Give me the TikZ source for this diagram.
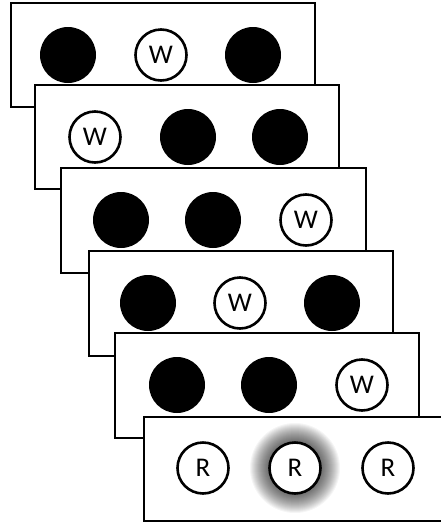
\documentclass[tikz,border=0pt]{standalone}
\usepackage{fontspec}
\setmainfont{Carlito}
\newcommand\tagfont{\fontsize{27}{29}\selectfont}
\begin{document}
\begin{tikzpicture}[x=1pt,y=-1pt,
  card/.style={draw=black,line width=2.8pt,fill=white},
  ball/.style={circle,fill=black,minimum size=56pt,inner sep=0pt},
  tag/.style={circle,draw=black,line width=2.6pt,fill=white,minimum size=51pt,inner sep=0pt,font=\tagfont}]
\useasboundingbox (0,0) rectangle (441,523);
% card 1
\draw[card] (11,3) rectangle (315,107);
\node[ball] (a1) at (68,55) {};
\node[tag] (a2) at (161,55) {W};
\node[ball] (a3) at (253,55) {};
% card 2
\draw[card] (35,85) rectangle (339,189);
\node[tag] (b1) at (95,137) {W};
\node[ball] (b2) at (188,137) {};
\node[ball] (b3) at (280,137) {};
% card 3
\draw[card] (61,168) rectangle (366,273);
\node[ball] (c1) at (121,220) {};
\node[ball] (c2) at (213,220) {};
\node[tag] (c3) at (306,220) {W};
% card 4
\draw[card] (89,251) rectangle (393,356);
\node[ball] (d1) at (148,303) {};
\node[tag] (d2) at (240,303) {W};
\node[ball] (d3) at (332,303) {};
% card 5
\draw[card] (115,333) rectangle (419,438);
\node[ball] (e1) at (177,385) {};
\node[ball] (e2) at (269,385) {};
\node[tag] (e3) at (362,385) {W};
% card 6
\draw[card] (144,417) rectangle (450,521);
\foreach \r in {27,28,...,45}
  \fill[black,opacity=0.04] (295,468) circle (\r);
\node[tag] (f1) at (203,468) {R};
\node[tag] (f2) at (295,468) {R};
\node[tag] (f3) at (388,468) {R};
\end{tikzpicture}
\end{document}
